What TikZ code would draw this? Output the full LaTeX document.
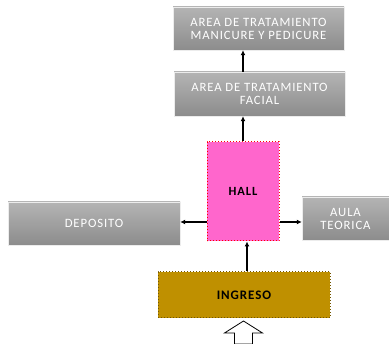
\documentclass[tikz,border=0pt]{standalone}
\usepackage{fontspec}
\setmainfont{Carlito}
\newfontfamily\boxfont[LetterSpace=7]{Carlito}
\usetikzlibrary{arrows.meta,positioning}
\definecolor{hallpink}{HTML}{FF66CC}
\definecolor{ingresogold}{HTML}{BF9000}
\definecolor{boxtop}{HTML}{B4B4B4}
\definecolor{boxbot}{HTML}{8C8C8C}

\begin{document}
\begin{tikzpicture}[
  x=1pt, y=-1pt,
  >=Latex,
  area/.style={top color=boxtop, bottom color=boxbot, draw=white!85!gray, line width=0.4pt,
    align=center, text=white, font=\boxfont\fontsize{12.7}{13}\selectfont, inner sep=2pt},
  hallbox/.style={fill=hallpink, draw=red, dotted, line width=1pt, font=\boxfont\bfseries\fontsize{12.5}{13}\selectfont},
  ingbox/.style={fill=ingresogold, draw=ingresogold!60!black, dotted, line width=1pt, font=\boxfont\bfseries\fontsize{13}{13}\selectfont},
  flow/.style={-{Latex[length=5pt,width=5pt]}, line width=1.4pt}
]
\useasboundingbox (0,0) rectangle (389,344);

% boxes
\node[area, minimum width=171pt, minimum height=43pt] (manicure) at (258.5,28.5)
  {AREA DE TRATAMIENTO\\MANICURE Y PEDICURE};
\node[area, minimum width=171pt, minimum height=44pt] (facial) at (259.5,94)
  {AREA DE TRATAMIENTO\\FACIAL};
\node[hallbox, minimum width=72pt, minimum height=99pt] (hall) at (243,191.5) {HALL};
\node[area, minimum width=172pt, minimum height=43pt] (deposito) at (94,223.5) {DEPOSITO};
\node[area, minimum width=87pt, minimum height=43pt] (aula) at (345.5,218.5) {AULA\\TEORICA};
\node[ingbox, minimum width=172pt, minimum height=46pt] (ingreso) at (244,295) {INGRESO};

% connectors
\draw[flow] (hall.north) -- (hall.north |- facial.south);
\draw[flow] (hall.north |- facial.north) -- (hall.north |- manicure.south);
\coordinate (hallside) at (0,222);
\draw[flow] (hall.west |- hallside) -- (deposito.east |- hallside);
\draw[flow] (hall.east |- hallside) -- (aula.west |- hallside);
\coordinate (ingtop) at (247,0);
\draw[flow] (ingreso.north -| ingtop) -- (hall.south -| ingtop);

% entrance block arrow
\coordinate (entry) at (243.5,321);
\draw[fill=white, line width=0.8pt, line join=miter]
  (entry) -- ++(19,12) -- ++(-10,0) -- ++(0,11) -- ++(-18,0) -- ++(0,-11) -- ++(-10,0) -- cycle;
\fill[black] ([xshift=-9pt,yshift=-4pt]entry |- 0,344) rectangle ([xshift=9pt]entry |- 0,344);
\end{tikzpicture}
\end{document}
